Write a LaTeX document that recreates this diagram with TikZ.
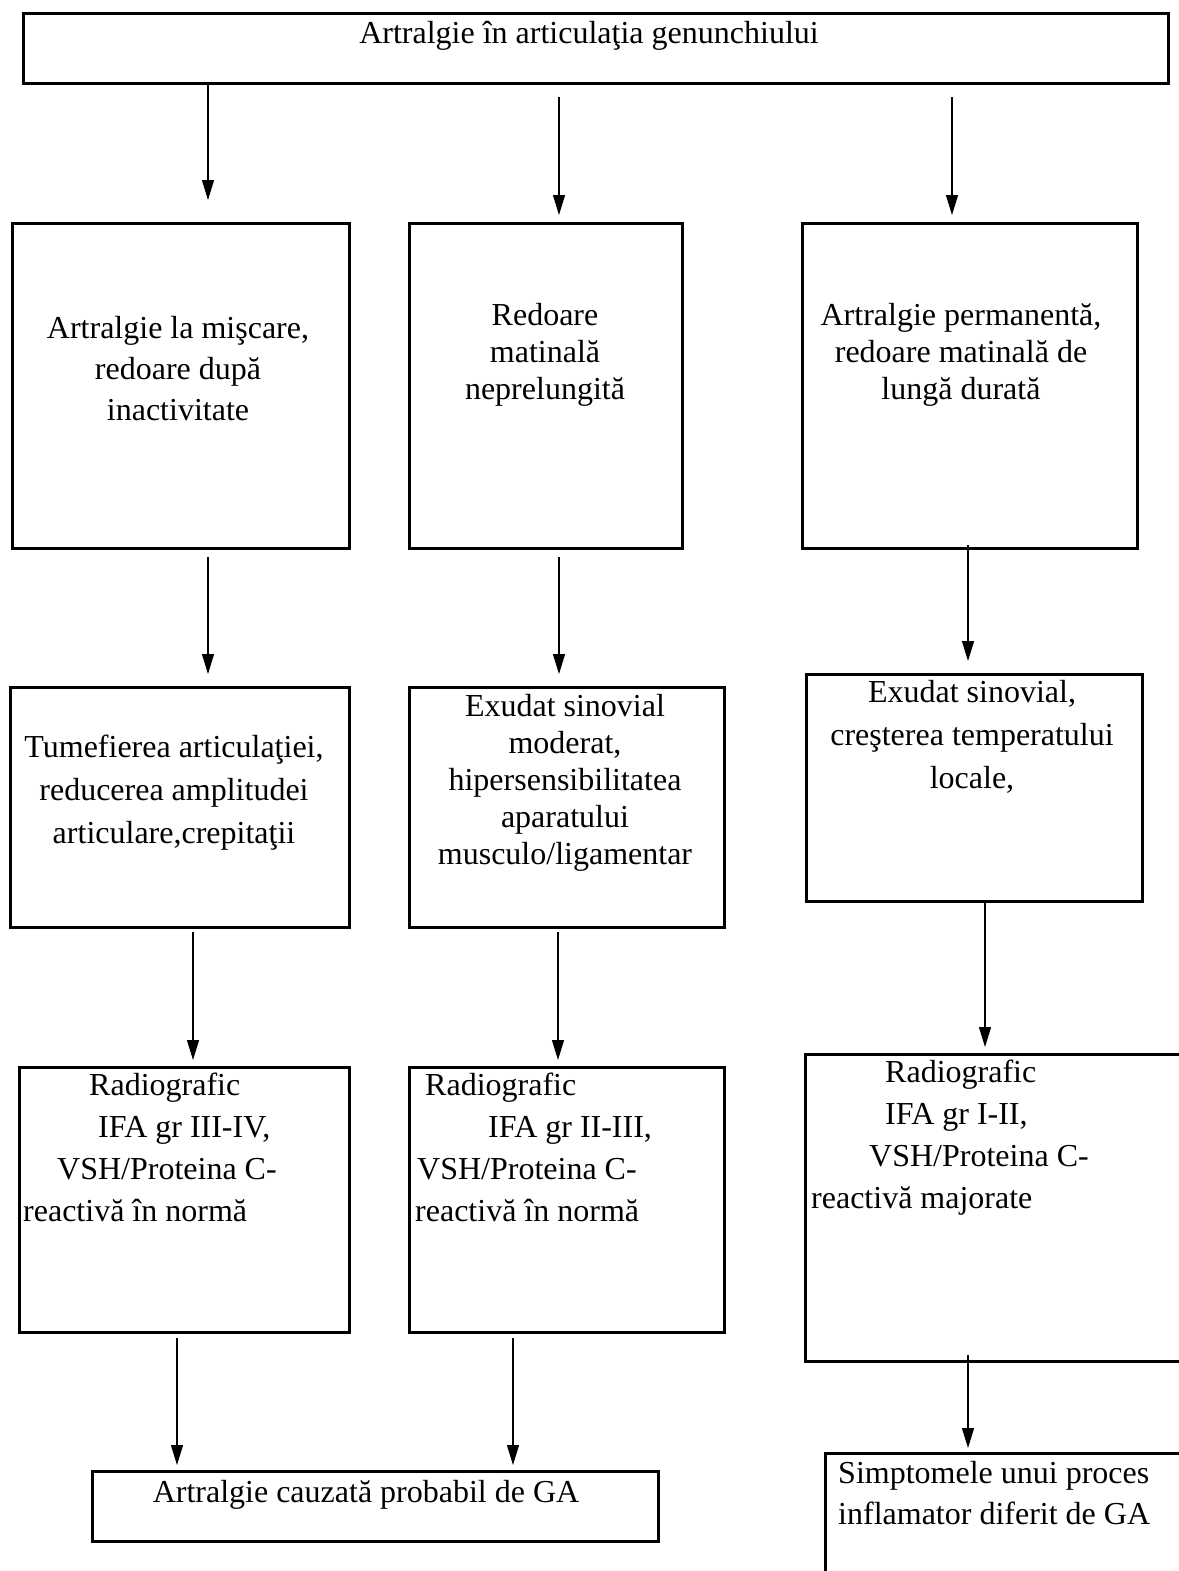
\documentclass[tikz,border=0pt]{standalone}
\usepackage{fontspec}
\setmainfont{Liberation Serif}
\usetikzlibrary{arrows.meta,positioning}
\tikzstyle{box} = [rectangle, draw=black, line width=2.6pt, anchor=north west, inner sep=0pt]
\tikzstyle{arrow} = [line width=1.4pt, -{Triangle[length=20pt,width=12pt]}]
\tikzset{
  txt/.style={align=center, anchor=base, inner sep=0pt, font=\fontsize{32pt}{#1}\selectfont},
  txt/.default=37pt,
  ltxt/.style={align=left, anchor=base west, inner sep=0pt, font=\fontsize{32pt}{#1}\selectfont},
  ltxt/.default=42pt
}

\begin{document}
\begin{tikzpicture}[x=1pt, y=-1pt]
    \useasboundingbox (0,0) rectangle (1178,1571);
    % Boxes
    \node (top) [box, minimum width=1145pt, minimum height=70pt] at (22,12) {};
    \node (b1) [box, minimum width=337pt, minimum height=325pt] at (11,222) {};
    \node (b2) [box, minimum width=273pt, minimum height=325pt] at (408,222) {};
    \node (b3) [box, minimum width=335pt, minimum height=325pt] at (801,222) {};
    \node (c1) [box, minimum width=339pt, minimum height=240pt] at (9,686) {};
    \node (c2) [box, minimum width=315pt, minimum height=240pt] at (408,686) {};
    \node (c3) [box, minimum width=336pt, minimum height=227pt] at (805,673) {};
    \node (d1) [box, minimum width=330pt, minimum height=265pt] at (18,1066) {};
    \node (d2) [box, minimum width=315pt, minimum height=265pt] at (408,1066) {};
    \node (d3) [box, minimum width=390pt, minimum height=307pt] at (804,1053) {};
    \node (e1) [box, minimum width=566pt, minimum height=70pt] at (91,1470) {};
    \node (e2) [box, minimum width=380pt, minimum height=140pt] at (824,1452) {};

    % Texts (placed at the baseline of the last line)
    \node (topt) [txt] at (589,44) {Artralgie în articulaţia genunchiului};
    \node (b1t) [txt=41pt] at (178,420) {Artralgie la mişcare,\\redoare după\\inactivitate};
    \node (b2t) [txt] at (545,399) {Redoare\\matinală\\neprelungită};
    \node (b3t) [txt] at (961,399) {Artralgie permanentă,\\redoare matinală de\\lungă durată};
    \node (c1t) [txt=43pt] at (174,843) {Tumefierea articulaţiei,\\reducerea amplitudei\\articulare,crepitaţii};
    \node (c2t) [txt] at (565,864) {Exudat sinovial\\moderat,\\hipersensibilitatea\\aparatului\\musculo/ligamentar};
    \node (c3t) [txt=43pt] at (972,788) {Exudat sinovial,\\creşterea temperatului\\locale,};
    \node (d1t) [ltxt] at (23,1221) {\hspace*{66pt}Radiografic\\\hspace*{75pt}IFA gr III-IV,\\\hspace*{34pt}VSH/Proteina C-\\reactivă în normă};
    \node (d2t) [ltxt] at (415,1221) {\hspace*{10pt}Radiografic\\\hspace*{73pt}IFA gr II-III,\\\hspace*{2pt}VSH/Proteina C-\\reactivă în normă};
    \node (d3t) [ltxt] at (811,1208) {\hspace*{74pt}Radiografic\\\hspace*{74pt}IFA gr I-II,\\\hspace*{58pt}VSH/Proteina C-\\reactivă majorate};
    \node (e1t) [txt] at (366,1502) {Artralgie cauzată probabil de GA};
    \node (e2t) [ltxt=41pt] at (838,1524) {Simptomele unui proces\\inflamator diferit de GA};

    % Arrow ends
    \coordinate (a1s) at (208,82);   \coordinate (a1e) at (208,200);
    \coordinate (a2s) at (559,97);   \coordinate (a2e) at (559,215);
    \coordinate (a3s) at (952,97);   \coordinate (a3e) at (952,215);
    \coordinate (a4s) at (208,557);  \coordinate (a4e) at (208,674);
    \coordinate (a5s) at (559,557);  \coordinate (a5e) at (559,674);
    \coordinate (a6s) at (968,545);  \coordinate (a6e) at (968,661);
    \coordinate (a7s) at (193,932);  \coordinate (a7e) at (193,1060);
    \coordinate (a8s) at (558,932);  \coordinate (a8e) at (558,1060);
    \coordinate (a9s) at (985,900);  \coordinate (a9e) at (985,1047);
    \coordinate (a10s) at (177,1338); \coordinate (a10e) at (177,1465);
    \coordinate (a11s) at (513,1338); \coordinate (a11e) at (513,1465);
    \coordinate (a12s) at (968,1355); \coordinate (a12e) at (968,1448);

    % Arrows
    \foreach \i in {1,...,12}
        \draw [arrow] (a\i s) -- (a\i e);
\end{tikzpicture}
\end{document}
